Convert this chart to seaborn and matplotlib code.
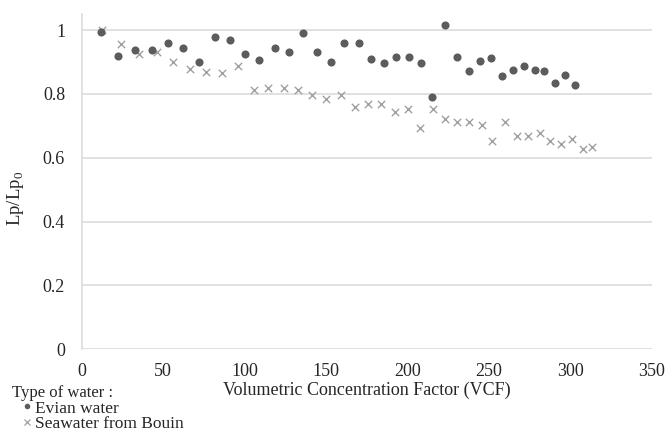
import pandas as pd
import matplotlib.pyplot as plt
import seaborn as sns
from matplotlib.lines import Line2D

# Evian water
evian_vcf = [12, 22, 32.5, 43, 53, 62, 72, 81.5, 91, 100.5, 109, 118.5, 127, 136, 144.5, 153,
             161, 170, 177.5, 185.5, 193, 201, 208, 215, 223, 230.5, 237.5, 244.5, 251.5, 258,
             264.5, 271.5, 278, 284, 290.5, 296.5, 302.5]
evian_lp = [0.995, 0.919, 0.937, 0.937, 0.960, 0.943, 0.899, 0.978, 0.969, 0.924, 0.905, 0.943,
            0.932, 0.990, 0.930, 0.901, 0.960, 0.960, 0.908, 0.897, 0.917, 0.917, 0.897, 0.789,
            1.017, 0.917, 0.871, 0.902, 0.913, 0.855, 0.876, 0.887, 0.876, 0.871, 0.835, 0.860,
            0.828]

# Seawater from Bouin
sea_vcf = [12.5, 24, 35, 46, 56, 66.5, 76.5, 86, 96, 105.5, 114.5, 124, 132.5, 141.5, 150, 159,
           167.5, 175.5, 184, 192, 200, 207.5, 215.5, 223, 230.5, 238, 245.5, 252, 260, 267,
           274, 281, 287.5, 294, 301, 307.5, 313.5]
sea_lp = [1.0, 0.955, 0.925, 0.930, 0.899, 0.878, 0.868, 0.866, 0.888, 0.811, 0.818, 0.818,
          0.813, 0.797, 0.783, 0.798, 0.759, 0.768, 0.768, 0.744, 0.752, 0.694, 0.752, 0.720,
          0.712, 0.712, 0.703, 0.653, 0.712, 0.669, 0.669, 0.677, 0.651, 0.643, 0.660, 0.626,
          0.634]

evian = pd.DataFrame({'vcf': evian_vcf, 'lp': evian_lp})
sea = pd.DataFrame({'vcf': sea_vcf, 'lp': sea_lp})

sns.set_style('white')
plt.rcParams['font.family'] = ['Liberation Serif', 'DejaVu Serif']
plt.rcParams['mathtext.fontset'] = 'custom'
plt.rcParams['mathtext.rm'] = 'Liberation Serif'

fig = plt.figure(figsize=(6.7, 4.42), dpi=100)
ax = fig.add_axes([0.122, 0.210, 0.851, 0.758])

ax.grid(axis='y', color='#dcdcdc', linewidth=1.2, zorder=0)
ax.set_axisbelow(True)

sns.scatterplot(data=sea, x='vcf', y='lp', marker='x', color='#a0a0a0', s=28,
                linewidth=1.0, ax=ax, zorder=3)
sns.scatterplot(data=evian, x='vcf', y='lp', marker='o', color='#5c5c5c', s=34,
                linewidth=0, ax=ax, zorder=4)

ax.set_xlim(0, 350)
ax.set_ylim(0, 1.05)
ax.set_xticks([0, 50, 100, 150, 200, 250, 300, 350])
ax.set_yticks([0, 0.2, 0.4, 0.6, 0.8, 1.0])
ax.set_yticklabels(['0', '0.2', '0.4', '0.6', '0.8', '1'])
ax.tick_params(axis='y', length=0, labelsize=13, pad=12)
ax.tick_params(axis='x', length=0, labelsize=13, pad=10)

for s in ['top', 'right', 'bottom']:
    ax.spines[s].set_visible(False)
ax.spines['left'].set_color('#dcdcdc')
ax.spines['left'].set_linewidth(1.2)

ax.set_xlabel('Volumetric Concentration Factor (VCF)', fontsize=13, labelpad=1)
ax.set_ylabel(r'Lp/Lp$_0$', fontsize=13.5)
ax.yaxis.set_label_coords(-0.098, 0.45)

handles = [
    Line2D([], [], marker='o', linestyle='none', color='#5c5c5c', markersize=4, markeredgewidth=0),
    Line2D([], [], marker='x', linestyle='none', color='#a0a0a0', markersize=5, markeredgewidth=0.9),
]
leg = fig.legend(handles, ['Evian water', 'Seawater from Bouin'], title='Type of water :',
                 loc='upper left', bbox_to_anchor=(0.005, 0.148), frameon=False,
                 fontsize=12.5, title_fontsize=12, handlelength=1.7, handletextpad=-0.35,
                 labelspacing=-0.05, borderpad=0.0)
leg._legend_box.align = 'left'

fig.savefig('out.png', dpi=100)
